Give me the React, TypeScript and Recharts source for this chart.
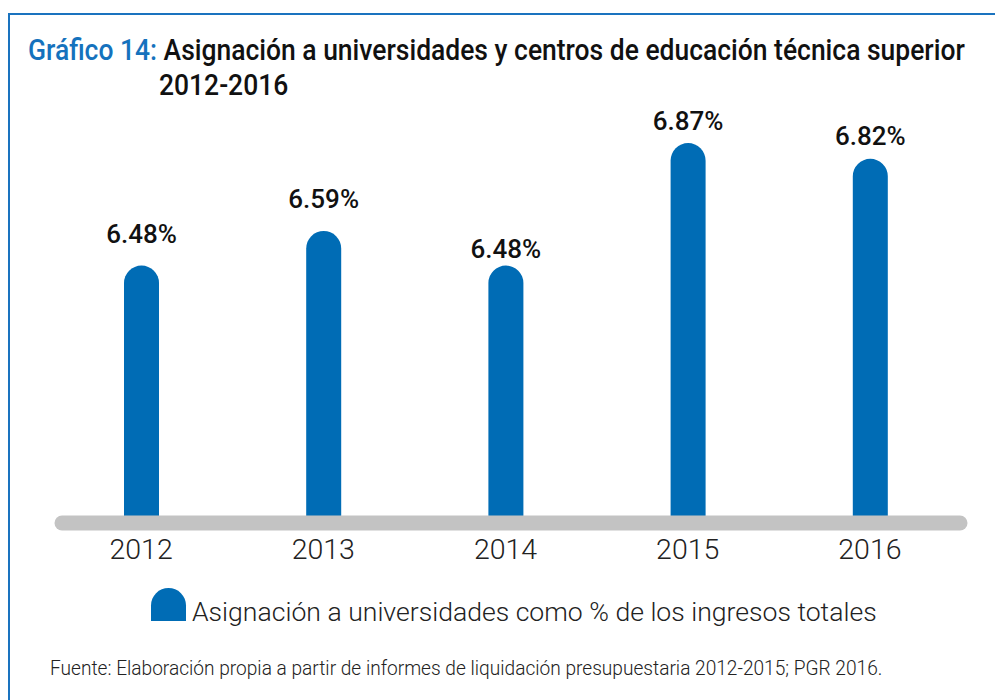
import { BarChart, Bar, XAxis, YAxis, Legend, LabelList } from "recharts";

const years = ["2012", "2013", "2014", "2015", "2016"];
const shares = [6.48, 6.59, 6.48, 6.87, 6.82];
const seriesName = "Asignación a universidades como % de los ingresos totales";

const data = years.map((year, i) => ({ year, share: shares[i] }));

const BLUE = "#006cb5";
const FONT = "Roboto, 'Noto Sans', sans-serif";

// the source nudged its value labels by hand, so each one sits a bit differently above its bar
const labelGap = [23, 23, 8, 13, 14];

function ValueLabel(props: any) {
  const { x, y, width, value, index } = props;
  return (
    <text
      x={x + width / 2}
      y={y - labelGap[index]}
      textAnchor="middle"
      fontFamily={FONT}
      fontWeight={500}
      fontSize={26}
      fill="#111"
    >
      {value.toFixed(2)}%
    </text>
  );
}

function LegendContent(props: any) {
  const item = props.payload?.[0];
  return (
    <div style={{ position: "relative", width: 760, height: 40 }}>
      <div
        style={{
          position: "absolute",
          left: 0,
          top: 0,
          width: 35,
          height: 33,
          background: BLUE,
          borderRadius: "17.5px 17.5px 0 0",
        }}
      />
      <div
        style={{
          position: "absolute",
          left: 41,
          top: 11,
          fontFamily: FONT,
          fontWeight: 300,
          fontSize: 26.6,
          lineHeight: "26px",
          color: "#222",
          whiteSpace: "nowrap",
        }}
      >
        {item?.value}
      </div>
    </div>
  );
}

export default function App() {
  return (
    <div
      style={{
        position: "absolute",
        left: 0,
        top: 0,
        width: 995,
        height: 700,
        background: "#fff",
        overflow: "hidden",
        fontFamily: FONT,
      }}
    >
      <div
        style={{
          position: "absolute",
          left: 8,
          top: 13,
          width: 1100,
          height: 800,
          borderTop: "2px solid #1a73bf",
          borderLeft: "2px solid #1a73bf",
        }}
      />
      <div
        style={{
          position: "absolute",
          left: 28,
          top: 36,
          fontSize: 29,
          lineHeight: "29px",
          fontWeight: 500,
          whiteSpace: "nowrap",
          color: "#111",
          transform: "scaleX(0.912)",
          transformOrigin: "left",
        }}
      >
        <span style={{ color: "#1572bd" }}>Gráfico 14:</span> Asignación a universidades y centros de
        educación técnica superior
      </div>
      <div
        style={{
          position: "absolute",
          left: 159,
          top: 71,
          fontSize: 29,
          lineHeight: "29px",
          fontWeight: 500,
          color: "#111",
          transform: "scaleX(0.912)",
          transformOrigin: "left",
        }}
      >
        2012-2016
      </div>

      <div style={{ position: "absolute", left: 0, top: 0 }}>
        <BarChart
          width={995}
          height={700}
          data={data}
          margin={{ top: 96, right: 35, bottom: 0, left: 62 }}
        >
          <YAxis hide domain={[5.66, 7.02]} allowDataOverflow />
          <Bar
            dataKey="share"
            name={seriesName}
            fill={BLUE}
            barSize={35}
            radius={[17.5, 17.5, 0, 0]}
            isAnimationActive={false}
          >
            <LabelList dataKey="share" content={ValueLabel} />
          </Bar>
          <XAxis
            dataKey="year"
            height={177}
            padding={{ left: -12, right: -1 }}
            tickLine={false}
            tickSize={0}
            tickMargin={16}
            axisLine={{ stroke: "#c3c3c3", strokeWidth: 15, strokeLinecap: "round" }}
            tick={{ fill: "#222", fontSize: 28.5, fontWeight: 300, fontFamily: FONT }}
          />
          <Legend
            verticalAlign="middle"
            align="center"
            content={LegendContent}
            wrapperStyle={{ position: "absolute", left: 151, top: 588, width: 760, height: 40 }}
          />
        </BarChart>
      </div>

      <div
        style={{
          position: "absolute",
          left: 50,
          top: 658,
          fontSize: 21,
          lineHeight: "21px",
          fontWeight: 300,
          color: "#222",
          whiteSpace: "nowrap",
          transform: "scaleX(0.91)",
          transformOrigin: "left",
        }}
      >
        Fuente: Elaboración propia a partir de informes de liquidación presupuestaria 2012-2015; PGR 2016.
      </div>
    </div>
  );
}
